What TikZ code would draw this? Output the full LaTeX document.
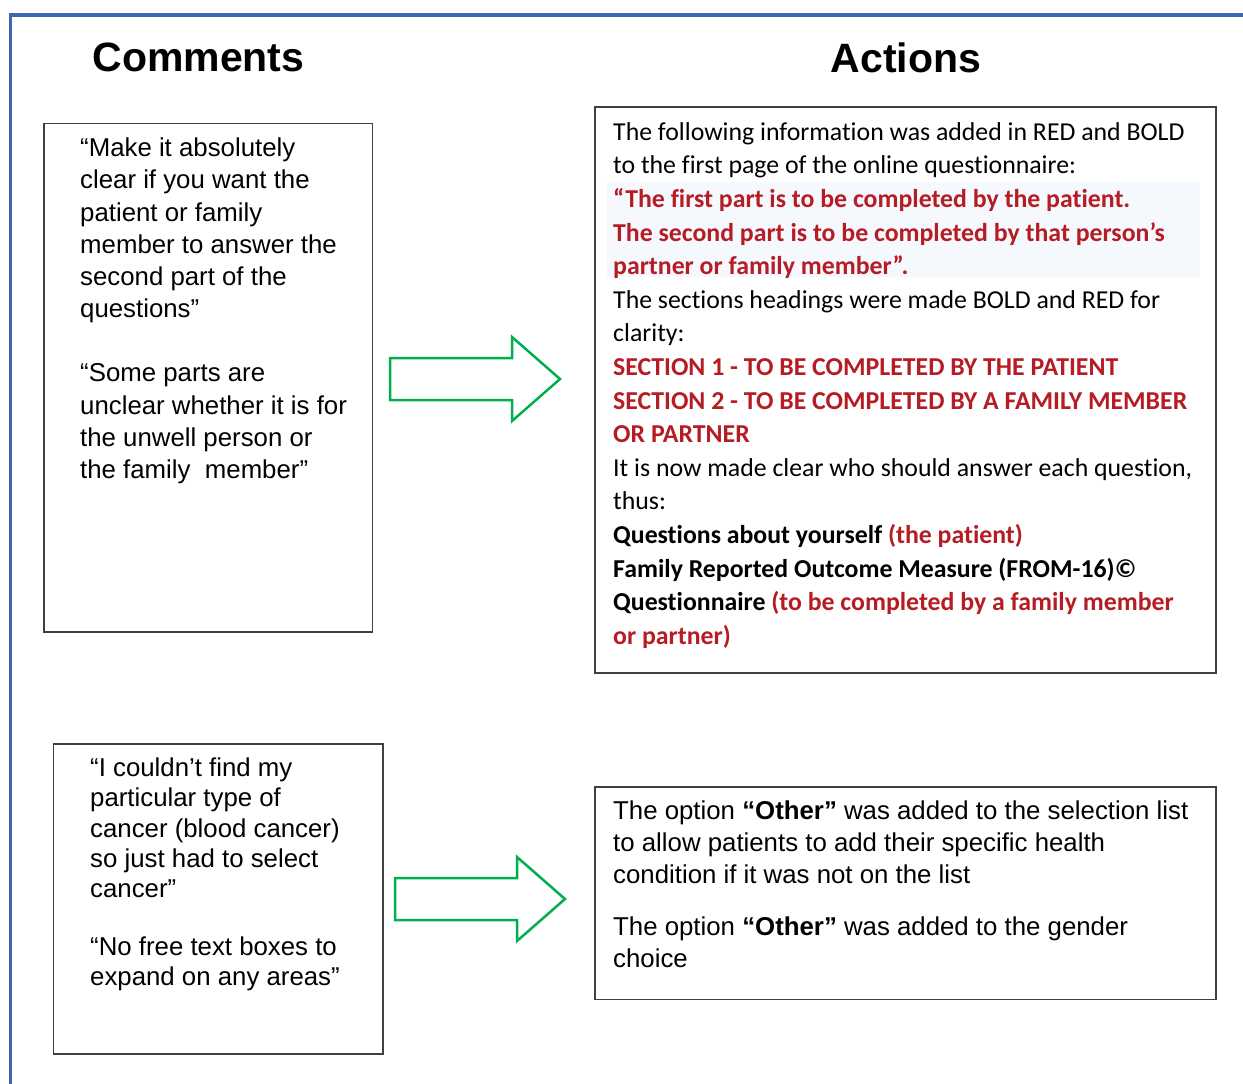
\documentclass[tikz,border=0pt]{standalone}
\usepackage{fontspec}
\setmainfont{Liberation Sans}
\newfontfamily\calibri[Ligatures={NoCommon}]{Carlito}
\usetikzlibrary{calc}

\definecolor{frameblue}{RGB}{63,103,175}
\definecolor{boxgray}{RGB}{64,64,64}
\definecolor{arrowgreen}{RGB}{0,176,80}
\definecolor{redtext}{RGB}{182,28,36}
\definecolor{bandblue}{RGB}{245,249,253}

% fixed height for the first line of every text block
\newcommand\topstrut{\rule{0pt}{20pt}}
\newcommand\rb[1]{\textcolor{redtext}{\bfseries #1}}

\tikzset{
  heading/.style={font=\fontsize{41}{48}\selectfont\bfseries, inner sep=0},
  panel/.style={draw=boxgray, line width=1.5pt, inner sep=0, anchor=north west},
  armtext/.style={anchor=north west, inner sep=0, align=left,
    font=\fontsize{25.8}{#1}\selectfont},
  calitext/.style={anchor=north west, inner sep=0, align=left,
    font=\calibri\fontsize{25.8}{33.6}\selectfont},
  blockarrow/.style={draw=arrowgreen, line width=2.5pt, fill=white, line join=miter},
  fatarrow/.pic={
    \draw[blockarrow] (0,-21) -- (122,-21) -- (122,-42) -- (170,0)
      -- (122,42) -- (122,21) -- (0,21) -- cycle;
  }
}

\begin{document}
\begin{tikzpicture}[x=1pt, y=-1pt]
\useasboundingbox (0,0) rectangle (1243,1084);
\fill[white] (0,0) rectangle (1243,1084);

% outer frame (top and left edges)
\draw[frameblue, line width=3.5pt, line join=miter] (1250,15) -- (10.3,15) -- (10.3,1090);

% column headings
\node[heading] (hcom) at (198.5,57) {Comments};
\node[heading] (hact) at (906,58) {Actions};

% frames of the four panels
\node[panel, minimum width=328.4, minimum height=508.5] (cmt1) at (43.3,122.5) {};
\node[panel, minimum width=329.2, minimum height=310] (cmt2) at (52.8,743.3) {};
\node[panel, minimum width=621, minimum height=566] (act1) at (594,106) {};
\node[panel, minimum width=621, minimum height=212.5] (act2) at (594,786) {};

% light highlight behind the quoted instruction
\node[fill=bandblue, inner sep=0, anchor=north west, minimum width=593, minimum height=95] (band) at (607,182) {};

% arrows from comments to actions
\pic at (390,379) {fatarrow};
\pic at (395,899) {fatarrow};

% comment texts
\node[armtext=32.2] (t1) at (80,136.5) {\topstrut “Make it absolutely\\
clear if you want the\\
patient or family\\
member to answer the\\
second part of the\\
questions”\\[32pt]
“Some parts are\\
unclear whether it is for\\
the unwell person or\\
the family~ member”};

\node[armtext=30.2] (t2) at (90,756.5) {\topstrut “I couldn’t find my\\
particular type of\\
cancer (blood cancer)\\
so just had to select\\
cancer”\\[28pt]
“No free text boxes to\\
expand on any areas”};

% action texts
\node[calitext] (t3) at (613,120) {\topstrut The following information was added in RED and BOLD\\
to the first page of the online questionnaire:\\
\rb{“The first part is to be completed by the patient.}\\
\rb{The second part is to be completed by that person’s}\\
\rb{partner or family member”.}\\
The sections headings were made BOLD and RED for\\
clarity:\\
\rb{SECTION 1 - TO BE COMPLETED BY THE PATIENT}\\
\rb{SECTION 2 - TO BE COMPLETED BY A FAMILY MEMBER}\\
\rb{OR PARTNER}\\
It is now made clear who should answer each question,\\
thus:\\
\textbf{Questions about yourself} \rb{(the patient)}\\
\textbf{Family Reported Outcome Measure (FROM-16)©}\\
\textbf{Questionnaire} \rb{(to be completed by a family member}\\
\rb{or partner)}};

\node[armtext=32] (t4) at (613,799) {\topstrut The option \textbf{“Other”} was added to the selection list\\
to allow patients to add their specific health\\
condition if it was not on the list\\[20pt]
The option \textbf{“Other”} was added to the gender\\
choice};
\end{tikzpicture}
\end{document}
